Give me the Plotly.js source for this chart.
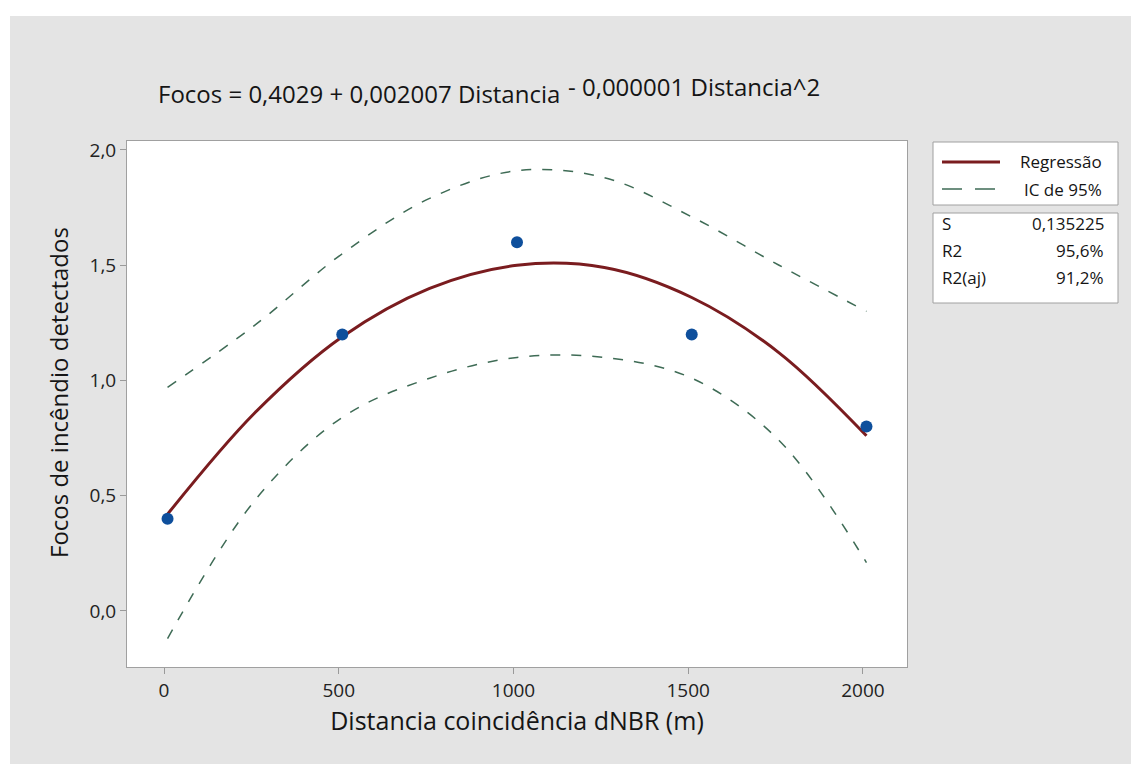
<!DOCTYPE html>
<html>
<head>
<meta charset="utf-8">
<script src="https://cdn.plot.ly/plotly-3.0.1.min.js"></script>
<style>
  html, body { margin: 0; padding: 0; background: #ffffff; }
  #chart { position: absolute; left: 10px; top: 16px; width: 1121px; height: 748px; }
</style>
</head>
<body>
<div id="chart"></div>
<script>
// Observed data points
const distancia = [10, 510, 1010, 1510, 2010];
const focos = [0.4, 1.2, 1.6, 1.2, 0.8];

// Curves
const curveX = [10, 260, 510, 760, 1010, 1260, 1510, 1760, 2010];
const regressao = [0.42, 0.86, 1.19, 1.40, 1.50, 1.49, 1.36, 1.12, 0.76];
const icSuperior = [0.97, 1.24, 1.55, 1.79, 1.91, 1.88, 1.71, 1.50, 1.30];
const icInferior = [-0.12, 0.48, 0.84, 1.01, 1.10, 1.10, 1.01, 0.74, 0.21];

// Texts
const titlePart1 = "Focos = 0,4029 + 0,002007 Distancia";
const titlePart2 = "- 0,000001 Distancia^2";
const xTitle = "Distancia coincidência dNBR (m)";
const yTitle = "Focos de incêndio detectados";
const legendNames = ["Regressão", "IC de 95%"];
const statLabels = ["S", "R2", "R2(aj)"];
const statValues = ["0,135225", "95,6%", "91,2%"];
const xTickVals = [0, 500, 1000, 1500, 2000];
const yTickVals = [0, 0.5, 1, 1.5, 2];

const FONT = "'Open Sans', 'Noto Sans', sans-serif";
const fitColor = "#7a1c1f";
const ciColor = "#3e6b55";
const dotColor = "#0e4f9c";
const textColor = "#151515";

// page -> paper helpers (plot area in page px: x 127..907, y 141..667)
const PX0 = 127, PX1 = 907, PY0 = 141, PY1 = 667;
const xp = X => (X - PX0) / (PX1 - PX0);
const yp = Y => (PY1 - Y) / (PY1 - PY0);

const traces = [
  { x: curveX, y: icSuperior, mode: "lines", line: { color: ciColor, width: 1.5, dash: "10px,11px", shape: "spline" }, showlegend: false, hoverinfo: "skip" },
  { x: curveX, y: icInferior, mode: "lines", line: { color: ciColor, width: 1.5, dash: "10px,11px", shape: "spline" }, showlegend: false, hoverinfo: "skip" },
  { x: curveX, y: regressao, mode: "lines", line: { color: fitColor, width: 3, shape: "spline" }, showlegend: false },
  { x: distancia, y: focos, mode: "markers", marker: { color: dotColor, size: 12 }, showlegend: false }
];

const shapes = [
  { type: "rect", xref: "paper", yref: "paper", x0: xp(933), x1: xp(1118), y0: yp(205), y1: yp(142), line: { color: "#a0a0a0", width: 1 }, fillcolor: "#ffffff" },
  { type: "rect", xref: "paper", yref: "paper", x0: xp(933), x1: xp(1118), y0: yp(303), y1: yp(213), line: { color: "#a0a0a0", width: 1 }, fillcolor: "#ffffff" },
  { type: "line", xref: "paper", yref: "paper", x0: xp(942), x1: xp(1000), y0: yp(162), y1: yp(162), line: { color: fitColor, width: 3 } },
  { type: "line", xref: "paper", yref: "paper", x0: xp(942), x1: xp(1000), y0: yp(189), y1: yp(189), line: { color: ciColor, width: 1.5, dash: "20px,13px" } }
];

const annFont = { family: FONT, size: 17, color: textColor };
const titleFont = { family: FONT, size: 24, color: textColor };
const annotations = [
  { text: titlePart1, xref: "paper", yref: "paper", x: xp(562), y: yp(94), xanchor: "right", yanchor: "middle", showarrow: false, font: titleFont },
  { text: titlePart2, xref: "paper", yref: "paper", x: xp(566), y: yp(87), xanchor: "left", yanchor: "middle", showarrow: false, font: titleFont },
  { text: yTitle, xref: "paper", yref: "paper", x: xp(58), y: yp(393), xanchor: "center", yanchor: "middle", textangle: -90, showarrow: false, font: { family: FONT, size: 24, color: textColor } },
  { text: legendNames[0], xref: "paper", yref: "paper", x: xp(1104), y: yp(162), xanchor: "right", yanchor: "middle", showarrow: false, font: annFont },
  { text: legendNames[1], xref: "paper", yref: "paper", x: xp(1104), y: yp(189), xanchor: "right", yanchor: "middle", showarrow: false, font: annFont }
];
const statRows = [223, 250, 277];
statLabels.forEach((s, i) => {
  annotations.push({ text: s, xref: "paper", yref: "paper", x: xp(940), y: yp(statRows[i]), xanchor: "left", yanchor: "middle", showarrow: false, font: annFont });
  annotations.push({ text: statValues[i], xref: "paper", yref: "paper", x: xp(1106), y: yp(statRows[i]), xanchor: "right", yanchor: "middle", showarrow: false, font: annFont });
});

const layout = {
  width: 1121, height: 748,
  margin: { l: PX0 - 10, r: 1131 - PX1, t: PY0 - 16, b: 764 - PY1 },
  paper_bgcolor: "#e4e4e4",
  plot_bgcolor: "#ffffff",
  separators: ",.",
  font: { family: FONT, color: textColor },
  showlegend: false,
  xaxis: {
    range: [-106, 2126],
    tickvals: xTickVals,
    ticks: "outside", ticklen: 6, tickcolor: "#9a9a9a",
    tickfont: { size: 19, color: "#222" },
    showgrid: false, zeroline: false,
    showline: true, mirror: true, linecolor: "#a0a0a0", linewidth: 1,
    title: { text: xTitle, font: { size: 25, color: textColor }, standoff: 10 }
  },
  yaxis: {
    range: [-0.243, 2.039],
    tickvals: yTickVals, tickformat: ".1f",
    ticks: "outside", ticklen: 6, tickcolor: "#9a9a9a",
    tickfont: { size: 19, color: "#222" },
    showgrid: false, zeroline: false,
    showline: true, mirror: true, linecolor: "#a0a0a0", linewidth: 1
  },
  shapes: shapes,
  annotations: annotations
};

Plotly.newPlot("chart", traces, layout, { staticPlot: true, displayModeBar: false });
</script>
</body>
</html>
